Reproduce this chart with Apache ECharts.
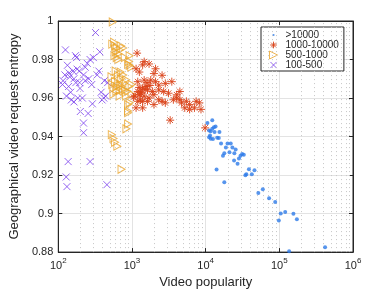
<!DOCTYPE html>
<html><head><meta charset="utf-8">
<script src="https://cdn.jsdelivr.net/npm/echarts@6/dist/echarts.min.js"></script>
<style>html,body{margin:0;padding:0;background:#fff}#c{width:390px;height:294px}</style>
</head><body><div id="c"></div>
<script>
var seriesNames = ['>10000', '1000-10000', '500-1000', '100-500'];
var yTicks = [0.88, 0.9, 0.92, 0.94, 0.96, 0.98, 1];
var xTicks = [100, 1000, 10000, 100000, 1000000];
var minorTicks = [200,300,400,500,600,700,800,900,2000,3000,4000,5000,6000,7000,8000,9000,
  20000,30000,40000,50000,60000,70000,80000,90000,200000,300000,400000,500000,600000,700000,800000,900000];

var blue = [[12300,0.9485],[10570,0.947],[12950,0.9448],[13630,0.9452],[12300,0.944],[11130,0.9431],[11710,0.9428],[13220,0.9423],[15390,0.9424],[11470,0.9406],[11130,0.9397],[11710,0.9389],[12560,0.9387],[14330,0.9394],[15080,0.9392],[16180,0.9364],[19820,0.9364],[21910,0.9364],[18830,0.9343],[23070,0.9343],[25530,0.9333],[21050,0.9318],[24530,0.9313],[17920,0.9313],[17180,0.93],[31280,0.931],[32950,0.9306],[29720,0.93],[28310,0.9286],[24300,0.9276],[27110,0.9259],[14060,0.9229],[38660,0.923],[46000,0.9225],[35650,0.9204],[34580,0.9199],[42330,0.9204],[17920,0.9163],[59700,0.9126],[51900,0.9107],[72600,0.908],[87900,0.906],[104500,0.9001],[120200,0.9008],[155300,0.8999],[98400,0.8964],[173100,0.8971],[135800,0.8805],[418000,0.8825]];

var red = [[1173,0.9833],[1465,0.9789],[1706,0.9777],[1395,0.9772],[1137,0.9752],[1259,0.9735],[2089,0.9752],[1986,0.9727],[2562,0.9718],[1198,0.9685],[1465,0.9693],[1796,0.9693],[2089,0.9685],[2310,0.9667],[2833,0.9676],[3472,0.9685],[1395,0.9651],[1625,0.9642],[1198,0.9634],[1892,0.9634],[2310,0.9642],[1986,0.9617],[2690,0.9634],[3133,0.9625],[4467,0.9634],[4043,0.9617],[1259,0.9617],[1465,0.9609],[1706,0.96],[1395,0.9583],[1625,0.9583],[1198,0.9583],[2310,0.9591],[2562,0.9583],[2833,0.9575],[3646,0.9591],[4043,0.96],[4467,0.9591],[1986,0.9566],[1137,0.9549],[1395,0.9549],[4708,0.9575],[5479,0.9583],[6058,0.9566],[7425,0.9583],[8209,0.9575],[5202,0.9549],[6058,0.9541],[7047,0.9549],[8642,0.9541],[3299,0.9485],[9840,0.9445],[1300,0.963],[1350,0.9625],[1250,0.9655],[1550,0.966],[1300,0.959],[1500,0.9645],[1600,0.968],[1750,0.9665],[1100,0.961],[1050,0.9605]];

var orange = [[548,0.9995],[589,0.987],[620,0.986],[715,0.987],[760,0.986],[601,0.984],[653,0.983],[578,0.982],[685,0.985],[798,0.981],[653,0.980],[620,0.981],[540,0.988],[570,0.989],[929,0.982],[912,0.979],[885,0.9775],[929,0.977],[977,0.976],[527,0.971],[645,0.972],[715,0.970],[832,0.9695],[589,0.9686],[679,0.9669],[791,0.9677],[920,0.966],[561,0.965],[614,0.9635],[750,0.9644],[874,0.9635],[561,0.962],[679,0.961],[832,0.961],[990,0.967],[990,0.962],[600,0.974],[700,0.9735],[760,0.972],[650,0.968],[720,0.966],[800,0.964],[540,0.967],[620,0.966],[680,0.964],[929,0.9575],[885,0.9533],[885,0.9566],[885,0.9524],[885,0.9465],[840,0.944],[532,0.941],[561,0.939],[589,0.937],[633,0.935],[721,0.923]];

var purple = [[320,0.994],[125,0.985],[171,0.982],[177,0.981],[366,0.984],[299,0.981],[270,0.980],[247,0.978],[232,0.976],[133,0.977],[180,0.975],[193,0.974],[158,0.974],[355,0.974],[140,0.973],[143,0.971],[123,0.972],[116,0.969],[114,0.967],[163,0.970],[173,0.968],[220,0.972],[232,0.969],[259,0.970],[284,0.967],[337,0.972],[421,0.969],[467,0.968],[195,0.968],[197,0.965],[138,0.966],[147,0.963],[129,0.961],[150,0.959],[163,0.958],[184,0.960],[212,0.960],[290,0.957],[381,0.963],[414,0.960],[393,0.959],[439,0.961],[199,0.953],[254,0.952],[220,0.947],[220,0.942],[136,0.927],[270,0.927],[128,0.919],[131,0.914],[457,0.915]];

var FONT = 'Liberation Sans, Arial, sans-serif';
var AX = '#262626';
var C_BLUE = '#2d7be8', C_RED = '#da4318', C_ORANGE = '#eba52a', C_PURPLE = '#7a40ee';
var STAR = 'path://M5,0 L5,10 M0,5 L10,5 M1.5,1.5 L8.5,8.5 M1.5,8.5 L8.5,1.5';
var TRI = 'path://M0,0 L10,5 L0,10 Z';
var XS = 'path://M0,0 L10,10 M0,10 L10,0';
var DOT_ICON = 'path://M0,0 M10,10 M3.6,5 A1.4,1.4 0 1,0 6.4,5 A1.4,1.4 0 1,0 3.6,5 Z';
var STAR_ICON = 'path://M-1,-1 M11,11 M5,0 L5,10 M0,5 L10,5 M1.5,1.5 L8.5,8.5 M1.5,8.5 L8.5,1.5';
var XS_ICON = 'path://M-1.5,-1.5 M11.5,11.5 M0,0 L10,10 M0,10 L10,0';
var CLEAR = 'rgba(0,0,0,0)';

var chart = echarts.init(document.getElementById('c'), null, {renderer: 'canvas'});
function supFmt(v) {
  var e = Math.round(Math.log(v) / Math.LN10);
  return '{b|10}{s|' + e + '}';
}
var xBase = {
  type: 'log', logBase: 10, min: 100, max: 1000000,
  axisLine: {show: true, lineStyle: {color: AX, width: 1}},
  axisTick: {show: true, inside: true, length: 4, lineStyle: {color: AX}},
  minorTick: {show: false}
};
var yBase = {
  type: 'value', min: 0.88, max: 1, interval: 0.02,
  axisLine: {show: true, lineStyle: {color: AX, width: 1}},
  axisTick: {show: true, inside: true, length: 4, lineStyle: {color: AX}}
};
var option = {
  animation: false,
  backgroundColor: '#fff',
  textStyle: {fontFamily: FONT},
  grid: {left: 50, right: 37, top: 21, bottom: 36, show: true, borderColor: AX, borderWidth: 1, backgroundColor: 'transparent'},
  legend: {
    orient: 'vertical', left: 261, top: 27,
    padding: [3, 5, 1, 8], itemGap: 0, itemWidth: 14, itemHeight: 8,
    backgroundColor: '#fff', borderColor: AX, borderWidth: 1, borderRadius: 0,
    textStyle: {fontSize: 10, color: AX, fontFamily: FONT, lineHeight: 10, padding: [0,0,0,0]},
    data: [
      {name: seriesNames[0], icon: DOT_ICON, itemStyle: {color: C_BLUE, borderWidth: 0}},
      {name: seriesNames[1], icon: STAR_ICON, itemStyle: {color: CLEAR, borderColor: C_RED, borderWidth: 1}},
      {name: seriesNames[2], icon: TRI, itemStyle: {color: CLEAR, borderColor: C_ORANGE, borderWidth: 1}},
      {name: seriesNames[3], icon: XS_ICON, itemStyle: {color: CLEAR, borderColor: C_PURPLE, borderWidth: 1}}
    ]
  },
  xAxis: [
    Object.assign({}, xBase, {
      position: 'bottom',
      name: 'Video popularity', nameLocation: 'middle', nameGap: 22,
      nameTextStyle: {fontSize: 13, color: AX, fontFamily: FONT},
      axisLabel: {
        color: AX, margin: 5, formatter: supFmt,
        rich: {
          b: {fontSize: 11, color: AX, fontFamily: FONT, verticalAlign: 'bottom'},
          s: {fontSize: 8, color: AX, fontFamily: FONT, verticalAlign: 'bottom', padding: [0, 0, 6, 0]}
        }
      },
      splitLine: {show: true, lineStyle: {color: '#e3e3e3', width: 1}}
    }),
    Object.assign({}, xBase, {
      position: 'top', axisLabel: {show: false}, splitLine: {show: false}
    })
  ],
  yAxis: [
    Object.assign({}, yBase, {
      position: 'left',
      name: 'Geographical video request entropy', nameLocation: 'middle', nameGap: 32,
      nameTextStyle: {fontSize: 13, color: AX, fontFamily: FONT},
      axisLabel: {color: AX, fontSize: 11, margin: 5, fontFamily: FONT,
        formatter: function (v) { return String(Number(v.toFixed(2))); }},
      splitLine: {show: true, lineStyle: {color: '#e3e3e3', width: 1}}
    }),
    Object.assign({}, yBase, {
      position: 'right', axisLabel: {show: false}, splitLine: {show: false}
    })
  ],
  series: [
    {
      name: 'minor', type: 'scatter', data: [], z: 1, silent: true,
      markLine: {
        silent: true, symbol: ['none', 'none'], animation: false,
        label: {show: false},
        lineStyle: {type: [1, 3], color: '#c6c6c6', width: 1},
        emphasis: {disabled: true},
        data: minorTicks.map(function (v) { return {xAxis: v}; })
      }
    },
    {
      name: seriesNames[3], type: 'scatter', data: purple, z: 3,
      symbol: XS, symbolSize: 7,
      itemStyle: {color: CLEAR, borderColor: C_PURPLE, borderWidth: 1},
      emphasis: {disabled: true}
    },
    {
      name: seriesNames[2], type: 'scatter', data: orange, z: 4,
      symbol: TRI, symbolSize: [7, 8],
      itemStyle: {color: CLEAR, borderColor: C_ORANGE, borderWidth: 1},
      emphasis: {disabled: true}
    },
    {
      name: seriesNames[1], type: 'scatter', data: red, z: 5,
      symbol: STAR, symbolSize: 8,
      itemStyle: {color: CLEAR, borderColor: C_RED, borderWidth: 1, opacity: 0.9},
      emphasis: {disabled: true}
    },
    {
      name: seriesNames[0], type: 'scatter', data: blue, z: 6,
      symbol: 'circle', symbolSize: 4,
      itemStyle: {color: C_BLUE},
      emphasis: {disabled: true}
    }
  ]
};
chart.setOption(option);
</script></body></html>
